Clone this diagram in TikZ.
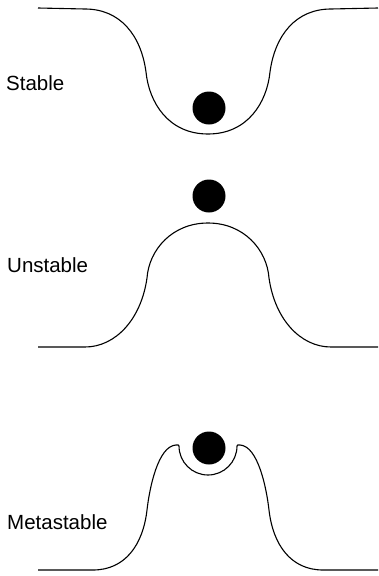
\documentclass[tikz,border=0pt]{standalone}
\usepackage{fontspec}
\setmainfont{Liberation Sans}
\begin{document}
\begin{tikzpicture}[x=1pt,y=-1pt,
  ball/.style={circle,fill=black,inner sep=0pt,minimum size=33pt},
  lbl/.style={anchor=west,inner sep=0pt,font=\fontsize{20.5}{24}\selectfont},
  surface/.style={line width=1.1pt,line join=round}]
  \useasboundingbox (0,0) rectangle (379,576);

  % Stable
  \node[lbl] (stable) at (6,83) {Stable};
  \draw[surface] (38,8) -- (85,9) .. controls (120,9) and (141,35) .. (146,72)
    .. controls (149,102) and (168,134) .. (208,134)
    .. controls (248,134) and (267,102) .. (270,72)
    .. controls (275,35) and (296,9) .. (331,9) -- (378,8);
  \node[ball] (ball1) at (209,108) {};

  % Unstable
  \node[lbl] (unstable) at (7,265) {Unstable};
  \draw[surface] (38,347) -- (85,347) .. controls (115,347) and (141,320) .. (147,278)
    .. controls (149,250) and (172,223) .. (208,223)
    .. controls (244,223) and (267,250) .. (269,278)
    .. controls (275,320) and (301,347) .. (331,347) -- (378,347);
  \node[ball] (ball2) at (209,196) {};

  % Metastable
  \node[lbl] (metastable) at (7,522) {Metastable};
  \draw[surface] (38,570) -- (93,570) .. controls (125,570) and (143,545) .. (147,510)
    .. controls (149.5,488) and (158,446) .. (176,445)
    .. controls (178,444.5) and (179,445) .. (179,446)
    .. controls (179,462) and (192,475) .. (208,475)
    .. controls (224,475) and (237,462) .. (237,446)
    .. controls (237,445) and (238,444.5) .. (240,445)
    .. controls (258,446) and (266.5,488) .. (269,510)
    .. controls (273,545) and (291,570) .. (323,570) -- (378,570);
  \node[ball] (ball3) at (209,448) {};

\end{tikzpicture}
\end{document}
